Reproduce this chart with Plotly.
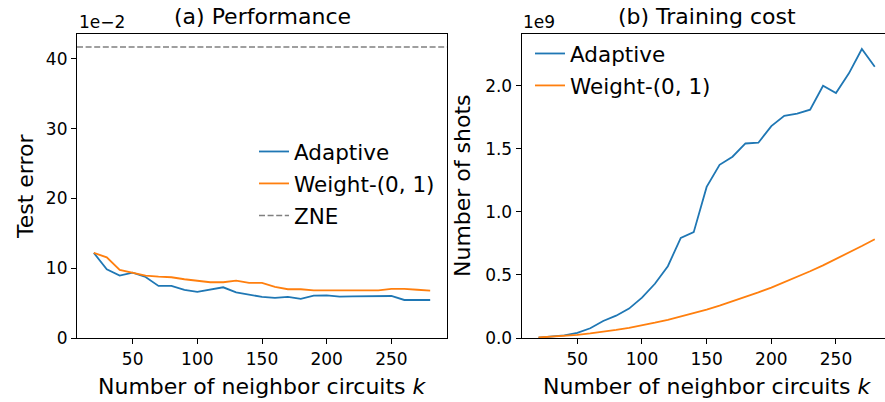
import plotly.graph_objects as go

k_values = list(range(20, 281, 10))

# Test error (x 1e-2)
adaptive_err = [12.2, 9.85, 8.95, 9.38, 8.75, 7.46, 7.46, 6.89, 6.60, 6.94, 7.27, 6.55, 6.17, 5.89,
                5.74, 5.89, 5.60, 6.08, 6.12, 5.93, 5.98, 5.98, 5.98, 6.02, 5.45, 5.50, 5.45]
weight_err = [12.2, 11.57, 9.75, 9.30, 8.95, 8.80, 8.71, 8.42, 8.23, 7.99, 7.99, 8.23, 7.89, 7.89,
              7.32, 6.99, 6.99, 6.84, 6.84, 6.84, 6.79, 6.79, 6.84, 7.03, 7.03, 6.92, 6.80]
zne_err = 41.7

# Number of shots (x 1e9)
adaptive_shots = [0.003, 0.010, 0.020, 0.040, 0.077, 0.135, 0.177, 0.233, 0.320, 0.430, 0.569, 0.794,
                  0.839, 1.198, 1.373, 1.437, 1.542, 1.548, 1.680, 1.762, 1.778, 1.810, 2.000, 1.942,
                  2.098, 2.291, 2.151]
weight_shots = [0.004, 0.009, 0.016, 0.025, 0.036, 0.049, 0.064, 0.081, 0.100, 0.121, 0.144, 0.169,
                0.196, 0.225, 0.256, 0.289, 0.324, 0.361, 0.400, 0.441, 0.484, 0.529, 0.576, 0.625,
                0.676, 0.729, 0.783]

BLUE = "#1f77b4"
ORANGE = "#ff7f0e"
FONT = "DejaVu Sans"
W, H = 885, 402

def px(x):
    return x / W

def py(y):
    return 1 - y / H

fig = go.Figure()

fig.add_trace(go.Scatter(x=k_values, y=adaptive_err, mode="lines", name="Adaptive",
                         line=dict(color=BLUE, width=1.8), xaxis="x", yaxis="y",
                         legend="legend", legendgroup="a1"))
fig.add_trace(go.Scatter(x=k_values, y=weight_err, mode="lines", name="Weight-(0, 1)",
                         line=dict(color=ORANGE, width=1.8), xaxis="x", yaxis="y",
                         legend="legend", legendgroup="a2"))
fig.add_shape(type="line", xref="x domain", yref="y", x0=0, x1=1, y0=zne_err, y1=zne_err,
              line=dict(color="#808080", width=1.5, dash="6px,2.6px"),
              showlegend=True, name="ZNE", legend="legend", legendgroup="a3")

fig.add_trace(go.Scatter(x=k_values, y=adaptive_shots, mode="lines", name="Adaptive",
                         line=dict(color=BLUE, width=1.8), xaxis="x2", yaxis="y2",
                         legend="legend2", legendgroup="b1"))
fig.add_trace(go.Scatter(x=k_values, y=weight_shots, mode="lines", name="Weight-(0, 1)",
                         line=dict(color=ORANGE, width=1.8), xaxis="x2", yaxis="y2",
                         legend="legend2", legendgroup="b2"))

tickfont = dict(family=FONT, size=17, color="black")
axis_common = dict(showgrid=False, zeroline=False, showline=True, linecolor="black", linewidth=1.2,
                   ticks="outside", ticklen=5, tickwidth=1.2, tickcolor="black", tickfont=tickfont,
                   automargin=False)

fig.update_layout(
    width=W, height=H,
    margin=dict(l=0, r=0, t=0, b=0, autoexpand=False),
    paper_bgcolor="white", plot_bgcolor="white",
    font=dict(family=FONT, color="black"),
    xaxis=dict(domain=[px(77), px(447)], range=[7, 293], tickvals=[50, 100, 150, 200, 250],
               mirror=True, anchor="y", **axis_common),
    yaxis=dict(domain=[py(338), py(34)], range=[0, 43.58], tickvals=[0, 10, 20, 30, 40],
               mirror=True, anchor="x", **axis_common),
    xaxis2=dict(domain=[px(521.7), 1.0], range=[7, 287.9], tickvals=[50, 100, 150, 200, 250],
                mirror=True, anchor="y2", **axis_common),
    yaxis2=dict(domain=[py(338), py(34)], range=[0, 2.41], tickvals=[0, 0.5, 1.0, 1.5, 2.0],
                tickformat=".1f", mirror=False, anchor="x2", **axis_common),
    legend=dict(x=px(254), y=py(131), xanchor="left", yanchor="top", bgcolor="rgba(0,0,0,0)",
                font=dict(family=FONT, size=21.5, color="black"), tracegroupgap=1),
    legend2=dict(x=px(530), y=py(33), xanchor="left", yanchor="top", bgcolor="rgba(0,0,0,0)",
                 font=dict(family=FONT, size=21.5, color="black"), tracegroupgap=1),
)

annots = [
    dict(text="(a) Performance", x=px(262), y=py(16)),
    dict(text="(b) Training cost", x=px(707), y=py(16)),
    dict(text="Number of neighbor circuits <i>k</i>", x=px(262), y=py(386)),
    dict(text="Number of neighbor circuits <i>k</i>", x=px(707), y=py(386)),
]
for a in annots:
    fig.add_annotation(text=a["text"], x=a["x"], y=a["y"], xref="paper", yref="paper",
                       showarrow=False, xanchor="center", yanchor="middle",
                       font=dict(family=FONT, size=22, color="black"))

fig.add_annotation(text="Test error", x=px(25), y=py(186), xref="paper", yref="paper",
                   showarrow=False, textangle=-90, xanchor="center", yanchor="middle",
                   font=dict(family=FONT, size=22, color="black"))
fig.add_annotation(text="Number of shots", x=px(462), y=py(186), xref="paper", yref="paper",
                   showarrow=False, textangle=-90, xanchor="center", yanchor="middle",
                   font=dict(family=FONT, size=22, color="black"))
fig.add_annotation(text="1e\u22122", x=px(77), y=py(22), xref="paper", yref="paper",
                   showarrow=False, xanchor="left", yanchor="middle",
                   font=dict(family=FONT, size=17, color="black"))
fig.add_annotation(text="1e9", x=px(521), y=py(22), xref="paper", yref="paper",
                   showarrow=False, xanchor="left", yanchor="middle",
                   font=dict(family=FONT, size=17, color="black"))

fig.write_html("out.html")
